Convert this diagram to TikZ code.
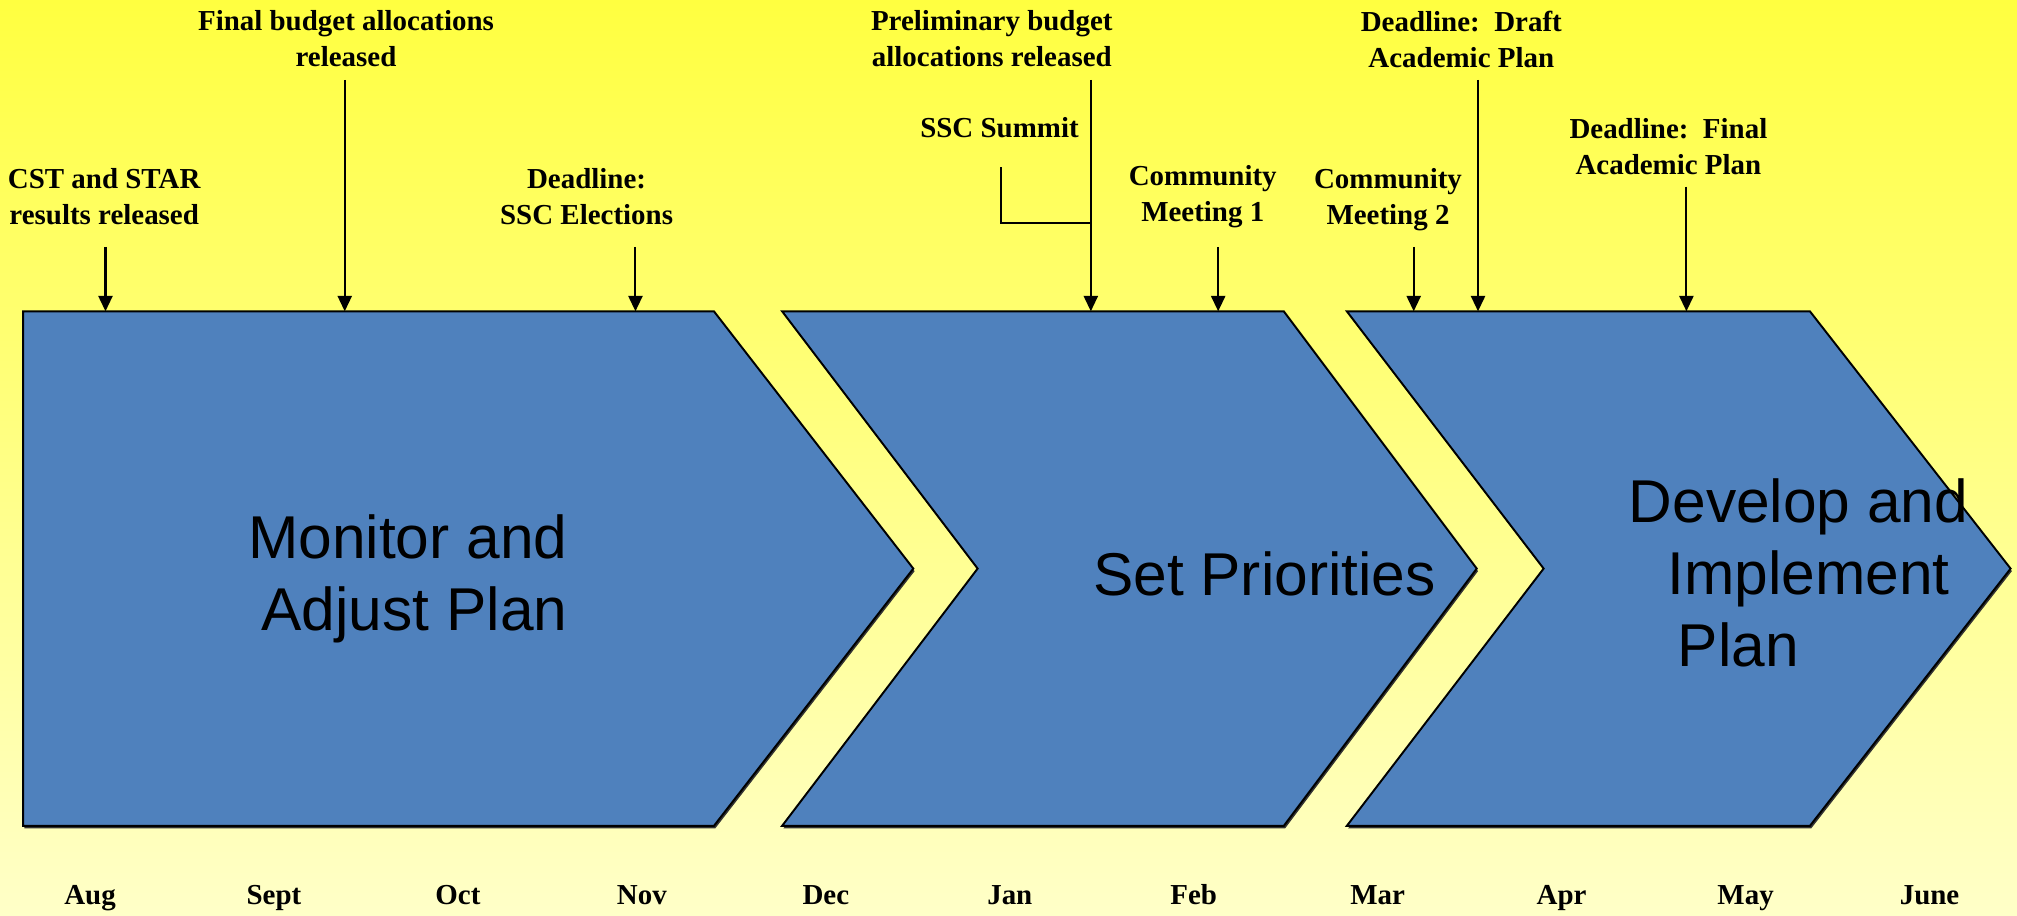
\documentclass[tikz,border=0pt]{standalone}
\usepackage{fontspec}
\setmainfont{Liberation Serif}
\newfontfamily\phasefont{Liberation Sans}
\usetikzlibrary{arrows.meta}

\definecolor{bgtop}{RGB}{255,255,64}
\definecolor{bgbot}{RGB}{255,255,200}
\definecolor{phaseblue}{RGB}{79,129,189}

\tikzset{
  phase/.style={fill=phaseblue, draw=black, line width=1.5pt, line join=miter},
  phaseshadow/.style={fill=black!80},
  phasetext/.style={font=\phasefont\fontsize{47}{56}\selectfont, inner sep=0pt},
  event/.style={font=\bfseries\fontsize{22.5}{28}\selectfont, align=center, inner sep=0pt},
  month/.style={font=\bfseries\fontsize{22.5}{28}\selectfont, anchor=base, inner sep=0pt},
  marker/.style={line width=1.6pt, -{Triangle[width=11pt,length=12pt]}},
  bracket/.style={line width=1.6pt},
}

\begin{document}
\begin{tikzpicture}[x=1pt, y=-1pt]
    \useasboundingbox (0,0) rectangle (1568,712);
    \fill [top color=bgtop, bottom color=bgbot] (0,0) rectangle (1568,712);

    % the three phases, shadow first
    \foreach \d/\st in {2/phaseshadow, 0/phase} {
        \begin{scope}[shift={(0.5*\d,\d)}]
            \path [\st] (18,242) -- (555,242) -- (710,442) -- (555,642) -- (18,642) -- cycle;
            \path [\st] (608,242) -- (998,242) -- (1148,442) -- (998,642) -- (608,642) -- (760,442) -- cycle;
            \path [\st] (1047,242) -- (1407,242) -- (1563,442) -- (1407,642) -- (1047,642) -- (1200,442) -- cycle;
        \end{scope}
    }
    \coordinate (top) at (0,242);

    \node [phasetext, align=right] (monitor) at (317,450) {Monitor and\\Adjust Plan};
    \node [phasetext, anchor=base] (priorities) at (983,463) {Set Priorities};
    \node [phasetext, align=left, anchor=west] (develop) at (1266,445)
        {Develop and\\\hspace*{30pt}Implement\\\hspace*{38pt}Plan};

    % events
    \node [event] (cst) at (81,153) {CST and STAR\\results released};
    \node [event] (final) at (269,30) {Final budget allocations\\released};
    \node [event] (elect) at (456,153) {Deadline:\\SSC Elections};
    \node [event] (prelim) at (771,30) {Preliminary budget\\allocations released};
    \node [event, anchor=base] (summit) at (777,107) {SSC Summit};
    \node [event] (comm1) at (935,153) {Community\\Meeting 1};
    \node [event] (comm2) at (1079,155) {Community\\Meeting 2};
    \node [event] (draft) at (1136,31) {Deadline:\ \ Draft\\Academic Plan};
    \node [event] (fplan) at (1297,114) {Deadline:\ \ Final\\Academic Plan};

    \coordinate (cstA) at (82,192);
    \coordinate (finalA) at (268,62);
    \coordinate (electA) at (494,192);
    \coordinate (prelimA) at (848,62);
    \coordinate (comm1A) at (947,192);
    \coordinate (comm2A) at (1099,192);
    \coordinate (draftA) at (1149,62);
    \coordinate (fplanA) at (1311,145);
    \coordinate (summitA) at (778,130);
    \coordinate (summitJ) at (848,173);

    \draw [marker] (cstA) -- (cstA |- top);
    \draw [marker] (finalA) -- (finalA |- top);
    \draw [marker] (electA) -- (electA |- top);
    \draw [marker] (prelimA) -- (prelimA |- top);
    \draw [marker] (comm1A) -- (comm1A |- top);
    \draw [marker] (comm2A) -- (comm2A |- top);
    \draw [marker] (draftA) -- (draftA |- top);
    \draw [marker] (fplanA) -- (fplanA |- top);
    \draw [bracket] (summitA) |- (summitJ);

    % months along the bottom
    \foreach \m [count=\i from 0] in {Aug,Sept,Oct,Nov,Dec,Jan,Feb,Mar,Apr,May,June}
        \node [month] (m\i) at (70+143*\i,703) {\m};
\end{tikzpicture}
\end{document}
